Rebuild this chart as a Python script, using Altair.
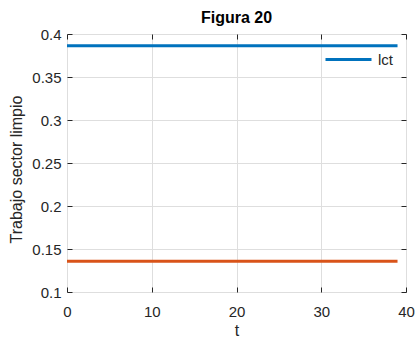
import altair as alt
import pandas as pd

# Time axis and the two constant series
t = [0, 39]
lct = [0.3864, 0.3864]
sector_b = [0.1357, 0.1357]

x_ticks = [0, 10, 20, 30, 40]
y_ticks = [0.1, 0.15, 0.2, 0.25, 0.3, 0.35, 0.4]

BLUE = "#0072BD"
ORANGE = "#D95319"
INK = "#262626"
FONT = "Arial"

df_a = pd.DataFrame({"t": t, "v": lct, "serie": ["lct"] * len(t)})
df_b = pd.DataFrame({"t": t, "v": sector_b})

x_scale = alt.Scale(domain=[0, 40], nice=False, zero=False)
y_scale = alt.Scale(domain=[0.1, 0.4], nice=False, zero=False)

# Inward-pointing ticks: axis pulled 5px into the plot, ticks reaching back to the frame
tick_axis = dict(
    domain=False, ticks=True, tickSize=5, offset=-5, tickColor=INK,
    tickWidth=1, labelColor=INK, labelFont=FONT, labelFontSize=15,
    labelFlush=False, labelOverlap=False,
    titleColor=INK, titleFont=FONT, titleFontSize=16, titleFontWeight="normal",
    gridColor="#dedede", gridWidth=1,
)

line_a = alt.Chart(df_a).mark_line(strokeWidth=3, clip=True).encode(
    x=alt.X("t:Q", scale=x_scale,
            axis=alt.Axis(orient="bottom", values=x_ticks, grid=True, title="t",
                          labelPadding=12, titlePadding=3, format="d", **tick_axis)),
    y=alt.Y("v:Q", scale=y_scale,
            axis=alt.Axis(orient="left", values=y_ticks, grid=True,
                          title="Trabajo sector limpio", labelPadding=6,
                          titleX=-48, titleY=135, format="~g", **tick_axis)),
    color=alt.Color("serie:N", scale=alt.Scale(domain=["lct"], range=[BLUE]),
                    legend=alt.Legend(title=None, orient="none", legendX=257, legendY=1,
                                      symbolType="stroke", symbolSize=2116,
                                      symbolStrokeWidth=3, labelFont=FONT,
                                      labelFontSize=15, labelColor=INK,
                                      labelOffset=5, padding=0)),
)

line_b = alt.Chart(df_b).mark_line(strokeWidth=3, color=ORANGE, clip=True).encode(
    x=alt.X("t:Q", scale=x_scale,
            axis=alt.Axis(orient="top", values=x_ticks, grid=False, labels=False,
                          title=None, **tick_axis)),
    y=alt.Y("v:Q", scale=y_scale,
            axis=alt.Axis(orient="right", values=y_ticks, grid=False, labels=False,
                          title=None, **tick_axis)),
)

chart = (
    alt.layer(line_a, line_b)
    .resolve_axis(x="independent", y="independent")
    .properties(
        width=339, height=258,
        autosize=alt.AutoSizeParams(type="none"),
        padding={"left": 67, "top": 34, "right": 10, "bottom": 46},
        title=alt.TitleParams("Figura 20", font=FONT, fontSize=16, fontWeight="bold",
                              color="#000000", offset=1),
    )
    .configure_view(stroke=INK, strokeWidth=1.3)
    .configure(background="white")
)

chart.save("out.html", embed_options={"renderer": "svg", "actions": False})
